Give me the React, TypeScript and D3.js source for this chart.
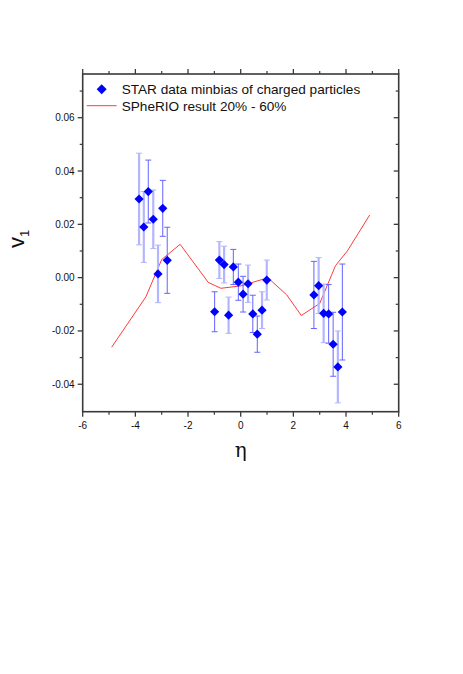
import React from "react";
import * as d3 from "d3";

const etaData = [-3.86, -3.68, -3.51, -3.32, -3.14, -2.96, -2.79, -0.99, -0.81, -0.63, -0.46, -0.28, -0.09, 0.09, 0.28, 0.46, 0.63, 0.81, 0.99, 2.78, 2.96, 3.15, 3.34, 3.51, 3.69, 3.86];
const v1Data = [0.0295, 0.019, 0.0323, 0.0219, 0.0014, 0.026, 0.0065, -0.0128, 0.0066, 0.0049, -0.0141, 0.004, -0.0017, -0.0062, -0.0023, -0.0136, -0.0212, -0.0122, -0.0009, -0.0065, -0.003, -0.0134, -0.0136, -0.025, -0.0335, -0.0129];
const errData = [0.0172, 0.0133, 0.0118, 0.011, 0.0108, 0.0105, 0.0124, 0.0075, 0.0069, 0.0069, 0.0068, 0.0066, 0.0068, 0.0067, 0.007, 0.007, 0.0068, 0.0069, 0.0075, 0.0126, 0.0105, 0.011, 0.011, 0.012, 0.0135, 0.018];
const lightBar = [true, true, false, true, true, false, false, false, true, true, true, false, false, false, true, false, false, true, true, false, true, true, false, false, true, false];

const lineEta = [-4.9, -3.6, -3.0, -2.3, -1.23, -0.75, 0.0, 0.85, 1.15, 1.75, 2.3, 3.0, 3.6, 4.05, 4.9];
const lineV1 = [-0.0261, -0.0072, 0.0068, 0.0125, -0.0018, -0.004, -0.0031, -0.0006, -0.0011, -0.0065, -0.0142, -0.0097, 0.0045, 0.01, 0.0235];

const xMajor = [-6, -4, -2, 0, 2, 4, 6];
const xMinor = [-5, -3, -1, 1, 3, 5];
const yMajor = [-0.04, -0.02, 0.0, 0.02, 0.04, 0.06];
const yMinor = [-0.03, -0.01, 0.01, 0.03, 0.05, 0.07];

const legendLabels = ["STAR data minbias of charged particles", "SPheRIO result 20% - 60%"];

export default function App() {
  const L = 82.7, R = 398.7, T = 74, B = 411.7;
  const x = d3.scaleLinear().domain([-6, 6]).range([L, R]);
  const y = d3.scaleLinear().domain([-0.0503, 0.0764]).range([B, T]);
  const line = d3.line<number>().x((d, i) => x(lineEta[i])).y((d) => y(d));
  const axisColor = "#3a3a3a";
  const font = "'Liberation Sans', Arial, sans-serif";
  const dia = (cx: number, cy: number, r: number) =>
    `M${cx},${cy - r}L${cx + r},${cy}L${cx},${cy + r}L${cx - r},${cy}Z`;

  return (
    <svg width={463} height={674} style={{ position: "absolute", left: 0, top: 0 }}>
      <rect width={463} height={674} fill="#fff" />
      {/* red model line */}
      <path d={line(lineV1) || ""} fill="none" stroke="#ff3b3b" strokeWidth={1} />
      {/* error bars */}
      {etaData.map((e, i) => {
        const cx = x(e);
        const y1 = y(v1Data[i] + errData[i]);
        const y2 = y(v1Data[i] - errData[i]);
        const light = lightBar[i];
        const col = light ? "#b3b5ff" : "#6464ff";
        return (
          <g key={"e" + i}>
            <line x1={cx} x2={cx} y1={y1} y2={y2} stroke={col} strokeWidth={light ? 2.2 : 1} />
            <line x1={cx - 3} x2={cx + 3} y1={y1} y2={y1} stroke={col} strokeWidth={1} />
            <line x1={cx - 3} x2={cx + 3} y1={y2} y2={y2} stroke={col} strokeWidth={1} />
          </g>
        );
      })}
      {/* markers */}
      {etaData.map((e, i) => (
        <path key={"m" + i} d={dia(x(e), y(v1Data[i]), 4.6)} fill="#0000ff" />
      ))}
      {/* frame */}
      <rect x={L} y={T} width={R - L} height={B - T} fill="none" stroke={axisColor} strokeWidth={1.6} />
      {/* x ticks */}
      {xMajor.map((t) => (
        <g key={"xM" + t}>
          <line x1={x(t)} x2={x(t)} y1={B} y2={B + 5} stroke={axisColor} strokeWidth={1.3} />
          <line x1={x(t)} x2={x(t)} y1={T} y2={T - 5} stroke={axisColor} strokeWidth={1.3} />
          <text x={x(t)} y={B + 17} textAnchor="middle" fontFamily={font} fontSize={10} fill="#111">{t}</text>
        </g>
      ))}
      {xMinor.map((t) => (
        <g key={"xm" + t}>
          <line x1={x(t)} x2={x(t)} y1={B} y2={B + 3} stroke={axisColor} strokeWidth={1.2} />
          <line x1={x(t)} x2={x(t)} y1={T} y2={T - 3} stroke={axisColor} strokeWidth={1.2} />
        </g>
      ))}
      {/* y ticks */}
      {yMajor.map((t) => (
        <g key={"yM" + t}>
          <line x1={L} x2={L - 5} y1={y(t)} y2={y(t)} stroke={axisColor} strokeWidth={1.3} />
          <line x1={R} x2={R - 5} y1={y(t)} y2={y(t)} stroke={axisColor} strokeWidth={1.3} />
          <text x={L - 8} y={y(t) + 3.5} textAnchor="end" fontFamily={font} fontSize={10} fill="#111">{t.toFixed(2)}</text>
        </g>
      ))}
      {yMinor.map((t) => (
        <g key={"ym" + t}>
          <line x1={L} x2={L - 3} y1={y(t)} y2={y(t)} stroke={axisColor} strokeWidth={1.2} />
          <line x1={R} x2={R - 3} y1={y(t)} y2={y(t)} stroke={axisColor} strokeWidth={1.2} />
        </g>
      ))}
      {/* legend */}
      <path d={dia(101.7, 89.3, 5)} fill="#0000ff" />
      <text x={121.7} y={93.8} fontFamily={font} fontSize={13.6} fill="#111">{legendLabels[0]}</text>
      <line x1={86.7} x2={116.7} y1={105.7} y2={105.7} stroke="#ff3b3b" strokeWidth={1} />
      <text x={121.7} y={110.5} fontFamily={font} fontSize={13.6} fill="#111">{legendLabels[1]}</text>
      {/* axis titles */}
      <text x={240.7} y={457} textAnchor="middle" fontFamily="'DejaVu Serif', serif" fontSize={20} fill="#111">η</text>
      <g transform="translate(24,248) rotate(-90)">
        <text x={0} y={0} fontFamily={font} fontSize={22} fill="#111">
          v<tspan fontSize={13} dy={5}>1</tspan>
        </text>
      </g>
    </svg>
  );
}
